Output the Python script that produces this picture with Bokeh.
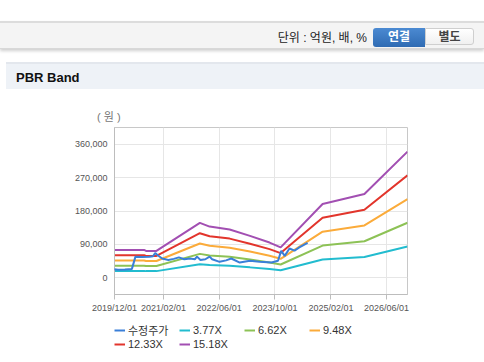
import pandas as pd
from bokeh.plotting import figure
from bokeh.models import (Range1d, FixedTicker, NumeralTickFormatter, DatetimeTickFormatter,
                          Legend, LegendItem, Div)
from bokeh.layouts import column
from bokeh.embed import file_html
from bokeh.resources import INLINE

# ---------------- data ----------------
price_dates = ["2019-12-01", "2020-01-01", "2020-03-01", "2020-05-01", "2020-06-01", "2020-08-01",
               "2020-10-01", "2020-11-01", "2020-11-20", "2020-12-15", "2021-01-20", "2021-03-15",
               "2021-05-01", "2021-06-15", "2021-08-01", "2021-09-20", "2021-11-01", "2021-11-20",
               "2021-12-20", "2022-02-01", "2022-03-10", "2022-04-01", "2022-06-05", "2022-08-01",
               "2022-09-15", "2022-11-28", "2023-02-25", "2023-05-20", "2023-09-01", "2023-10-28",
               "2023-11-25", "2023-12-25", "2024-02-05", "2024-03-20", "2024-05-01", "2024-07-12"]
price = [23000, 22000, 22500, 24000, 57000, 56000,
         57000, 58000, 67000, 60000, 52000, 48000,
         51000, 55000, 50000, 52000, 50000, 57000,
         48000, 50000, 57000, 50000, 43000, 47000,
         52000, 41000, 46000, 43000, 41000, 46000,
         73000, 59000, 79000, 73000, 82000, 94000]

band_dates = ["2019-12-01", "2020-08-15", "2020-09-01", "2020-12-01", "2021-12-15", "2022-03-10",
              "2022-09-01", "2023-02-25", "2023-08-15", "2023-11-20", "2024-11-20", "2025-11-20",
              "2026-12-01"]
band_377 = [18600, 18600, 18000, 18000, 36800, 34300, 32300, 28100, 23600, 20400, 49400, 56100, 84400]
band_662 = [32700, 32700, 31600, 31600, 64500, 60200, 56700, 49300, 41400, 35800, 86800, 98600, 148300]
band_948 = [46800, 46800, 45300, 45300, 92400, 86200, 81200, 70600, 59300, 51200, 124300, 141100, 212300]
band_1233 = [60900, 60900, 58900, 58900, 120200, 112100, 105600, 91800, 77200, 66600, 161600, 183600, 276200]
band_1518 = [75000, 75000, 72500, 72500, 148000, 138000, 130000, 113000, 95000, 82000, 199000, 226000, 340000]

series_names = ["수정주가", "3.77X", "6.62X", "9.48X", "12.33X", "15.18X"]
series_colors = ["#3a7fd8", "#22bccf", "#8dc256", "#fbab3a", "#e2352c", "#a24fb2"]

y_ticks = [0, 90000, 180000, 270000, 360000]
x_tick_labels = ["2019-12-01", "2021-02-01", "2022-06-01", "2023-10-01", "2025-02-01", "2026-06-01"]
x_start, x_end = "2019-12-01", "2026-12-01"
y_start, y_end = -45000, 405000

# ---------------- header (HTML) ----------------
header_html = """
<div style="position:relative;width:484px;height:122px;font-family:'Liberation Sans','Noto Sans CJK KR',sans-serif;">
  <div style="position:absolute;left:0;top:21px;width:484px;height:28px;background:#f4f4f4;
       border-top:2px solid #dcdcdc;border-bottom:1px solid #d8d8d8;box-shadow:0 2px 3px #d0d0d0;"></div>
  <div style="position:absolute;right:117px;top:30px;font-size:12px;color:#222;line-height:16px;">단위 : 억원, 배, %</div>
  <div style="position:absolute;left:373px;top:28px;width:52px;height:19px;line-height:19px;text-align:center;
       background:linear-gradient(#4b8ad2,#2f6bb3);color:#fff;font-weight:bold;font-size:12px;
       border-radius:3px 0 0 3px;">연결</div>
  <div style="position:absolute;left:425px;top:28px;width:49px;height:17px;line-height:17px;text-align:center;
       background:linear-gradient(#ffffff,#f0f0f0);color:#444;font-weight:bold;font-size:12px;
       border:1px solid #cfcfcf;border-radius:0 3px 3px 0;">별도</div>
  <div style="position:absolute;left:6px;top:62px;width:478px;height:27px;background:#eef2f7;border-top:2px solid #e3e7ed;"></div>
  <div style="position:absolute;left:16px;top:70px;font-size:13px;font-weight:bold;color:#111;line-height:16px;">PBR Band</div>
  <div style="position:absolute;left:97px;top:110px;font-size:11px;color:#777;line-height:14px;">(&nbsp;원&nbsp;)</div>
</div>
"""
header = Div(text=header_html, width=484, height=122, margin=(0, 0, 0, 0))

# ---------------- chart ----------------
p = figure(x_axis_type="datetime", output_backend="svg", toolbar_location=None,
           frame_width=293, frame_height=167,
           min_border_left=114, min_border_right=77, min_border_top=5, min_border_bottom=27,
           x_range=Range1d(pd.Timestamp(x_start), pd.Timestamp(x_end)),
           y_range=Range1d(y_start, y_end), margin=(0, 0, 0, 0))
p.background_fill_color = "white"
p.border_fill_color = "white"
p.outline_line_color = "#c8c8c8"

bd = pd.to_datetime(band_dates)
pdts = pd.to_datetime(price_dates)
renderers = []
renderers.append(p.line(pdts, price, line_color=series_colors[0], line_width=2))
for vals, col in zip([band_377, band_662, band_948, band_1233, band_1518], series_colors[1:]):
    renderers.append(p.line(bd, vals, line_color=col, line_width=2))
renderers[0].level = "overlay"

tick_ms = [pd.Timestamp(d).value // 10**6 for d in x_tick_labels]
p.xaxis.ticker = FixedTicker(ticks=tick_ms)
fmt = "%Y/%m/%d"
p.xaxis.formatter = DatetimeTickFormatter(milliseconds=fmt, seconds=fmt, minsec=fmt, minutes=fmt,
                                          hourmin=fmt, hours=fmt, days=fmt, months=fmt, years=fmt)
p.yaxis.ticker = FixedTicker(ticks=y_ticks)
p.yaxis.formatter = NumeralTickFormatter(format="0,0")

for ax in (p.xaxis[0], p.yaxis[0]):
    ax.axis_line_color = "#bdbdbd"
    ax.major_tick_line_color = "#bdbdbd"
    ax.minor_tick_line_color = None
    ax.major_label_text_font = "Liberation Sans"
    ax.major_label_text_font_size = "9px"
    ax.major_label_text_color = "#555555"
    ax.major_tick_in = 0
p.xaxis.major_tick_out = 5
p.xaxis.major_label_standoff = 3
p.yaxis.major_tick_out = 0
p.yaxis.major_label_standoff = 7

p.xgrid.grid_line_color = "#e6e6e6"
p.ygrid.grid_line_color = "#e6e6e6"

# ---------------- legend (own strip below the chart) ----------------
pl = figure(output_backend="svg", toolbar_location=None, width=484, height=34,
            x_axis_location=None, y_axis_location=None,
            min_border_left=112, min_border_right=0, min_border_top=1, min_border_bottom=0,
            x_range=Range1d(0, 1), y_range=Range1d(0, 1), margin=(0, 0, 0, 0))
pl.outline_line_color = None
pl.grid.visible = False
pl.background_fill_color = "white"
pl.border_fill_color = "white"
nan = float("nan")
leg_renderers = [pl.line([nan], [nan], line_color=c, line_width=2) for c in series_colors]

legend = Legend(items=[LegendItem(label=n, renderers=[r]) for n, r in zip(series_names, leg_renderers)],
                orientation="horizontal", ncols=4, location="top_left",
                glyph_width=11, glyph_height=12, label_height=12, label_width=51,
                label_standoff=3, spacing=0, padding=0, margin=0,
                label_text_font="Liberation Sans, Noto Sans CJK KR",
                label_text_font_size="11px", label_text_color="#333333",
                border_line_color=None, background_fill_alpha=0)
pl.add_layout(legend, "center")

layout = column(header, p, pl, spacing=0)
open("out.html", "w").write(file_html(layout, INLINE))
